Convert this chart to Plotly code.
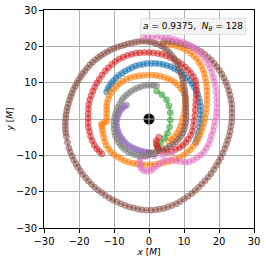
import plotly.graph_objects as go

# ---- data ----
blue_x = [-12.1, -11.7, -11.3, -10.8, -10.2, -9.4, -8.6, -7.7, -6.8, -5.8,
          -4.8, -3.8, -2.7, -1.6, -0.5, 0.7, 1.8, 2.9, 4.0, 5.1,
          6.2, 7.2, 8.2, 9.1, 10.0, 10.8, 11.6, 12.3, 12.9, 13.4,
          13.9, 14.2, 14.5, 14.7, 14.8, 14.8, 14.8, 14.7, 14.5, 14.3,
          14.0, 13.7, 13.3]
blue_y = [7.5, 8.3, 9.0, 9.8, 10.5, 11.3, 12.0, 12.6, 13.2, 13.7,
          14.2, 14.6, 14.9, 15.1, 15.3, 15.3, 15.3, 15.2, 15.0, 14.7,
          14.4, 13.9, 13.4, 12.8, 12.1, 11.4, 10.6, 9.7, 8.8, 7.8,
          6.8, 5.7, 4.6, 3.5, 2.3, 1.2, 0.0, -1.2, -2.3, -3.4,
          -4.5, -5.5, -6.5]

orange_x = [4.1, 5.3, 6.5, 7.7, 8.8, 9.9, 10.9, 11.9, 12.8, 13.6,
            14.3, 14.9, 15.4, 15.8, 16.1, 16.3, 16.5, 16.6, 16.6, 16.6,
            16.5, 16.4, 16.2, 16.0, 15.7, 15.4, 15.0, 14.5, 14.0, 13.4,
            12.6, 11.7, 10.8, 9.8, 8.7, 7.6, 6.5, 5.3, 4.1, 2.9,
            1.6, 0.4, -0.9, -2.2, -3.4, -4.6, -5.8, -6.9, -8.0, -9.0,
            -10.0, -10.9, -11.6, -12.2, -12.6, -12.9, -13.1, -13.3, -13.4, -13.5,
            -13.5, -12.7, -12.0, -12.1, -12.1, -12.1, -12.1, -12.0, -11.7, -11.3,
            -10.8, -10.1, -9.3, -8.4, -7.5, -6.4, -5.3, -4.1, -2.9, -1.7,
            -0.4, 0.8, 2.0, 3.2, 4.3, 5.4, 6.4, 7.3, 8.2, 9.0,
            9.6, 10.1, 10.4, 10.5, 10.4, 10.2, 10.0, 9.7, 9.4, 9.0,
            8.6, 8.0, 7.3, 6.5, 5.5]
orange_y = [20.8, 20.6, 20.4, 20.1, 19.8, 19.3, 18.8, 18.1, 17.4, 16.6,
            15.7, 14.7, 13.6, 12.5, 11.3, 10.1, 8.9, 7.7, 6.5, 5.3,
            4.0, 2.8, 1.5, 0.2, -1.0, -2.2, -3.4, -4.5, -5.6, -6.6,
            -7.6, -8.5, -9.2, -10.0, -10.6, -11.1, -11.5, -11.8, -12.1, -12.3,
            -12.5, -12.6, -12.6, -12.5, -12.4, -12.2, -11.9, -11.5, -11.0, -10.4,
            -9.8, -9.0, -8.2, -7.2, -6.2, -5.2, -4.1, -3.2, -2.3, -1.8,
            -1.3, -0.9, -0.6, 0.5, 1.5, 2.5, 3.5, 4.5, 5.5, 6.5,
            7.4, 8.2, 9.0, 9.7, 10.4, 11.0, 11.4, 11.7, 11.9, 12.0,
            12.1, 12.1, 12.0, 11.8, 11.5, 11.1, 10.7, 10.1, 9.4, 8.6,
            7.8, 6.8, 5.8, 4.7, 3.6, 2.5, 1.4, 0.3, -0.9, -2.0,
            -3.0, -3.9, -4.8, -5.5, -6.0]

green_x = [2.2, 3.7, 5.0, 5.7, 6.1, 6.1, 5.9, 5.3, 4.4, 3.3, 2.4]
green_y = [7.7, 6.7, 5.3, 3.6, 1.7, -0.3, -2.2, -3.9, -5.3, -6.6, -7.7]

red_x = [-13.5, -14.2, -14.9, -15.6, -16.2, -16.7, -17.0, -17.3, -17.4, -17.4,
         -17.4, -17.3, -17.2, -16.9, -16.5, -16.0, -15.5, -14.9, -14.2, -13.4,
         -12.5, -11.6, -10.6, -9.6, -8.5, -7.4, -6.2, -5.0, -3.8, -2.6,
         -1.3, 0.0, 1.2, 2.5, 3.7, 4.9, 6.0, 7.2, 8.3, 9.3,
         10.3, 11.2, 12.0, 12.7, 13.3, 13.5, 13.6, 13.5, 13.4, 13.3,
         13.2, 13.1, 12.9, 12.7, 12.4, 11.9, 11.2, 10.5, 9.6, 8.7,
         7.6, 6.4, 5.2, 4.1, 3.2, 2.6, 2.2, 2.1, 2.1, 2.8]
red_y = [-9.6, -8.9, -8.2, -7.2, -6.0, -4.8, -3.5, -2.3, -1.0, 0.3,
         1.5, 2.8, 4.0, 5.3, 6.5, 7.7, 8.8, 9.9, 11.0, 12.1,
         13.2, 14.1, 15.0, 15.8, 16.5, 17.0, 17.5, 17.8, 18.1, 18.2,
         18.3, 18.3, 18.2, 18.0, 17.8, 17.4, 16.9, 16.4, 15.8, 15.1,
         14.3, 13.5, 12.6, 11.6, 10.5, 9.3, 8.0, 6.7, 5.3, 3.9,
         2.5, 1.0, -0.5, -1.9, -3.3, -4.5, -5.6, -6.5, -7.3, -7.9,
         -8.4, -8.8, -9.0, -8.9, -8.6, -8.0, -7.4, -6.7, -6.0, -5.0]

purple_x = [-6.4, -7.0, -7.6, -8.1, -8.5, -8.8, -9.1, -9.3, -9.3, -9.2, -9.0, -8.7, -8.3,
            -7.8, -7.3, -6.7, -6.0, -5.3, -4.5, -3.8, -3.0, -2.3, -1.5, -0.8, 0.0]
purple_y = [3.8, 3.5, 3.0, 2.5, 1.8, 1.1, 0.3, -0.5, -1.3, -2.2, -3.0, -3.8, -4.6,
            -5.3, -6.0, -6.6, -7.2, -7.6, -8.0, -8.3, -8.6, -8.8, -9.0, -9.1, -9.2]

brown_x = [0.0, 1.0, 2.0, 3.0, 4.0, 5.0, 5.9, 6.8, 7.6, 8.4,
           9.0, 9.6, 10.0, 10.3, 10.5, 10.6, 10.6, 10.6, 10.5, 10.5,
           10.4, 10.4, 10.3, 10.2, 10.0, 9.8, 9.6, 9.3, 9.0, 8.6,
           8.2, 7.7, 7.1, 6.5, 5.8, 5.1, 4.3, 3.5, 2.6, 1.7,
           0.8, -0.1, -1.0, -2.0, -3.0, -4.0, -5.0, -6.0, -7.0, -8.0,
           -9.0, -10.0, -11.0, -11.9, -12.8, -13.7, -14.5, -15.3, -16.1, -16.9,
           -17.6, -18.3, -18.9, -19.5, -20.1, -20.6, -21.1, -21.6, -22.0, -22.4,
           -22.7, -23.0, -23.3, -23.5, -23.7, -23.8, -23.9, -23.9, -23.9, -23.8,
           -23.6, -23.3, -22.9, -22.5, -22.0, -21.5, -20.9, -20.3, -19.6, -18.9,
           -18.1, -17.3, -16.4, -15.5, -14.5, -13.5, -12.5, -11.4, -10.3, -9.2,
           -8.0, -6.8, -5.6, -4.4, -3.2, -2.0, -0.7, 0.6, 1.8, 3.0,
           4.2, 5.4, 6.6, 7.8, 8.9, 10.0, 11.1, 12.2, 13.2, 14.2,
           15.1, 16.0, 16.9, 17.7, 18.5, 19.2, 19.9, 20.5, 21.1, 21.6,
           22.1, 22.5, 22.9, 23.2, 23.4, 23.6, 23.7, 23.7, 23.7, 23.6,
           23.4, 23.1, 22.8, 22.4, 21.9, 21.4, 20.8, 20.1, 19.4, 18.6,
           17.8, 16.9, 15.9, 14.9, 13.8, 12.7, 11.5, 10.3, 9.1, 7.9,
           6.7, 5.5, 4.2]
brown_y = [-9.5, -9.3, -9.1, -8.8, -8.4, -8.0, -7.5, -6.9, -6.3, -5.6,
           -4.8, -3.9, -3.0, -2.0, -1.0, 0.0, 1.0, 2.0, 3.0, 4.0,
           5.0, 6.0, 7.0, 8.0, 9.0, 10.0, 11.0, 12.0, 13.0, 14.0,
           14.9, 15.8, 16.7, 17.5, 18.3, 19.0, 19.6, 20.1, 20.6, 20.9,
           21.2, 21.3, 21.4, 21.4, 21.3, 21.1, 20.9, 20.7, 20.4, 20.1,
           19.8, 19.4, 19.0, 18.5, 18.0, 17.5, 16.9, 16.3, 15.6, 14.9,
           14.1, 13.3, 12.5, 11.7, 10.8, 9.9, 9.0, 8.1, 7.1, 6.2,
           5.2, 4.2, 3.2, 2.2, 1.2, 0.2, -0.8, -1.8, -2.8, -3.8,
           -4.8, -6.4, -8.0, -9.1, -10.2, -11.3, -12.3, -13.3, -14.3, -15.3,
           -16.2, -17.1, -18.0, -18.8, -19.6, -20.3, -21.0, -21.7, -22.3, -22.8,
           -23.3, -23.8, -24.2, -24.5, -24.8, -25.0, -25.1, -25.1, -25.0, -24.8,
           -24.6, -24.2, -23.8, -23.3, -22.7, -22.0, -21.3, -20.5, -19.7, -18.8,
           -17.9, -17.0, -16.0, -15.0, -13.9, -12.8, -11.7, -10.6, -9.4, -8.2,
           -7.0, -5.8, -4.6, -3.4, -2.1, -0.9, 0.4, 1.7, 2.9, 4.2,
           5.4, 6.6, 7.8, 9.0, 10.2, 11.3, 12.4, 13.4, 14.4, 15.3,
           16.2, 17.0, 17.8, 18.5, 19.1, 19.6, 20.1, 20.5, 20.8, 21.1,
           21.3, 21.4, 21.5]

pink_x = [6.5, 4.0, 1.5, -1.0, -2.5, -2.7, -2.6, -2.2, -1.5, -0.5,
          0.5, 1.3, 2.0, 3.0, 4.0, 5.2, 6.5, 7.8, 9.0, 10.3,
          11.5, 12.7, 13.8, 14.8, 15.7, 16.4, 17.0, 17.5, 17.9, 18.3,
          18.6, 18.9, 19.2, 19.3, 19.4, 19.4, 19.3, 19.2, 19.0, 18.7,
          18.4, 18.0, 17.5, 16.9, 16.3, 15.6, 14.8, 13.9, 13.0, 12.0,
          11.0, 9.8, 8.5, 7.3, 6.0, 4.8, 3.5, 2.3, 1.0, -0.3, -1.6]
pink_y = [-9.3, -9.8, -10.2, -10.3, -10.8, -11.8, -12.8, -13.6, -14.2, -14.4,
          -14.2, -13.6, -13.0, -12.3, -11.7, -11.3, -11.2, -11.5, -11.8, -11.9,
          -11.8, -11.3, -10.6, -9.9, -9.0, -8.0, -7.0, -5.8, -4.5, -3.3,
          -2.0, -0.7, 0.6, 1.8, 3.0, 4.5, 6.0, 7.5, 9.0, 10.3,
          11.5, 12.8, 14.0, 15.2, 16.3, 17.2, 18.0, 18.8, 19.5, 20.1,
          20.6, 21.1, 21.5, 21.9, 22.2, 22.4, 22.6, 22.7, 22.7, 22.7, 22.7]

gray_x = [2.2, 1.4, 0.6, -0.4, -1.3, -2.3, -3.2, -4.1, -5.0, -5.8,
          -6.6, -7.3, -7.9, -8.4, -8.9, -9.3, -9.6, -9.8, -10.0, -10.0,
          -10.0, -9.8, -9.6, -9.2, -8.8, -8.2, -7.6, -6.8, -6.0, -5.1,
          -4.2, -3.2, -2.2, -1.2, -0.3, 0.6, 1.5]
gray_y = [9.2, 9.3, 9.3, 9.3, 9.2, 8.9, 8.6, 8.2, 7.7, 7.1,
          6.5, 5.8, 5.0, 4.1, 3.2, 2.3, 1.3, 0.3, -0.7, -1.7,
          -2.7, -3.7, -4.6, -5.5, -6.3, -7.1, -7.8, -8.4, -9.0, -9.4,
          -9.8, -10.0, -10.1, -10.1, -10.0, -9.8, -9.6]

bh_x = [0.0]
bh_y = [0.0]

ticks = [-30, -20, -10, 0, 10, 20, 30]
tick_labels = ["\u221230", "\u221220", "\u221210", "0", "10", "20", "30"]

series = [
    (blue_x, blue_y, (31, 119, 180)),
    (orange_x, orange_y, (255, 127, 14)),
    (green_x, green_y, (44, 160, 44)),
    (red_x, red_y, (214, 39, 40)),
    (purple_x, purple_y, (148, 103, 189)),
    (brown_x, brown_y, (140, 86, 75)),
    (pink_x, pink_y, (227, 119, 194)),
    (gray_x, gray_y, (127, 127, 127)),
]

fig = go.Figure()
for xs, ys, (r, g, b) in series:
    c = f"rgba({r},{g},{b},0.5)"
    fig.add_trace(go.Scatter(
        x=xs, y=ys, mode="lines+markers",
        line=dict(color=c, width=1.5),
        marker=dict(size=6, color=c, line=dict(color=c, width=1)),
        showlegend=False, hoverinfo="skip"))

fig.add_trace(go.Scatter(x=bh_x, y=bh_y, mode="markers",
                         marker=dict(size=11, color="black"), showlegend=False, hoverinfo="skip"))
fig.add_trace(go.Scatter(x=bh_x, y=bh_y, mode="markers",
                         marker=dict(size=11, symbol="cross-thin",
                                     line=dict(color="rgba(200,200,200,0.9)", width=1)),
                         showlegend=False, hoverinfo="skip"))

axis_common = dict(range=[-30, 30], tickvals=ticks, ticktext=tick_labels,
                   showgrid=True, gridcolor="#b0b0b0", gridwidth=0.8,
                   zeroline=False, showline=True, mirror=True, linecolor="black", linewidth=1,
                   ticks="outside", ticklen=4, tickcolor="black", automargin=False,
                   tickfont=dict(family="DejaVu Sans", size=10, color="black"))

fig.update_layout(
    width=266, height=262,
    margin=dict(l=44, r=12, t=10, b=34),
    paper_bgcolor="white", plot_bgcolor="white",
    font=dict(family="DejaVu Sans", size=10, color="black"),
    xaxis=dict(**axis_common, title=dict(text="<i>x</i> [<i>M</i>]", font=dict(size=9), standoff=0)),
    yaxis=dict(**axis_common, title=dict(text="<i>y</i> [<i>M</i>]", font=dict(size=9), standoff=0)),
    annotations=[dict(
        xref="paper", yref="paper", x=0.962, y=0.963, xanchor="right", yanchor="top",
        text="<i>a</i> = 0.9375,  <i>N</i><sub><i>θ</i></sub> = 128",
        showarrow=False, font=dict(family="DejaVu Sans", size=9, color="black"),
        bgcolor="rgba(242,242,242,0.85)", bordercolor="rgba(220,220,220,0.9)", borderwidth=1, borderpad=2)],
)

fig.write_html("out.html", config={"displayModeBar": False},
               post_script="document.body.style.margin='0';document.body.style.overflow='hidden';")
